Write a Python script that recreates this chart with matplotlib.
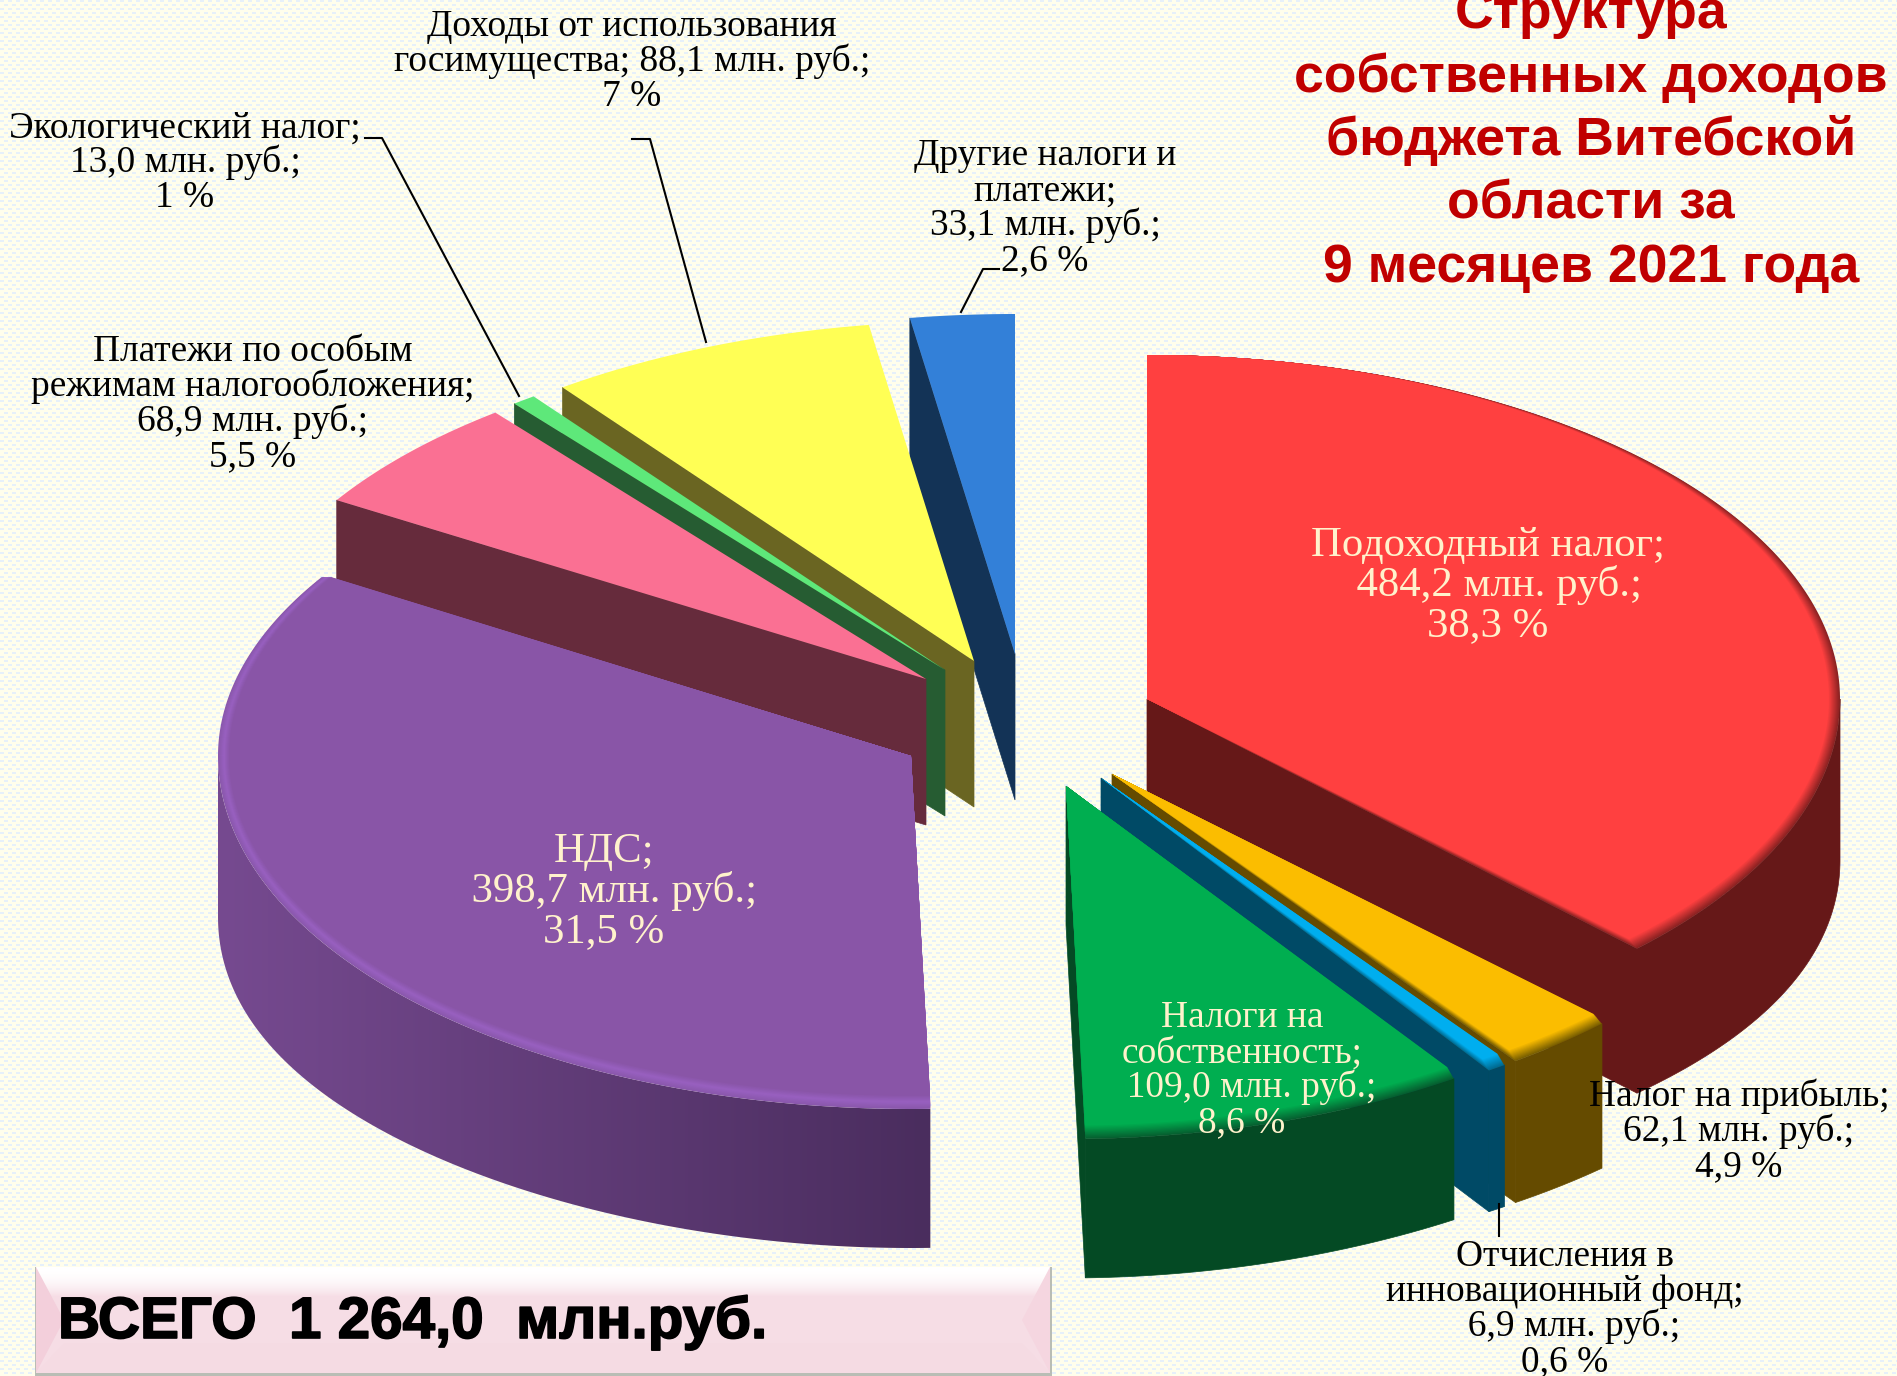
import numpy as np
import matplotlib
matplotlib.use("Agg")
import matplotlib.pyplot as plt
import matplotlib.patheffects as pe
from matplotlib.colors import to_rgb, LinearSegmentedColormap
from matplotlib.patches import Polygon

# data, clockwise from the top of the pie
category_lines = [
    ["Подоходный налог;"],
    ["Налог на прибыль;"],
    ["Отчисления в", "инновационный фонд;"],
    ["Налоги на", "собственность;"],
    ["НДС;"],
    ["Платежи по особым", "режимам налогообложения;"],
    ["Экологический налог;"],
    ["Доходы от использования", "госимущества; 88,1 млн. руб.;"],
    ["Другие налоги и", "платежи;"],
]
values_mln = [484.2, 62.1, 6.9, 109.0, 398.7, 68.9, 13.0, 88.1, 33.1]
percent_labels = ["38,3", "4,9", "0,6", "8,6", "31,5", "5,5", "1", "7", "2,6"]
title_lines = ["Структура", "собственных доходов", "бюджета Витебской", "области за", "9 месяцев 2021 года"]
total_label = "ВСЕГО  1 264,0  млн.руб."

# look of the slices
APEX = [(1147, 699), (1112, 774), (1101, 778), (1066, 786), (911, 756),
        (926, 679), (945, 670), (974, 661), (1015, 654)]
TOPS = ["#ff4040", "#fbbd00", "#00aeef", "#00ae50", "#8955a7", "#fa7093", "#5ee87a", "#ffff55", "#3380d8"]
WALLS = ["#661818", "#654b00", "#004a66", "#044a24", "#764a90", "#662b3c", "#265c32", "#6a6522", "#133356"]
# the drawn pie is slightly warped, so boundaries are nudged (degrees)
EDGE_NUDGE = [0, -2.9, -11.2, -11.6, -10.2, -0.4, -0.2, -1.9, 0.7, 0]
RX, RY_BACK, RY_FRONT = 693, 340, 353
DEPTH_BACK, DEPTH_FRONT, DEPTH_SIDE_EXTRA = 146, 139, 22
BEVEL = {0: "#8a2222", 1: "#7a5f00", 2: "#006a90", 3: "#066030", 4: "#9860c0"}
LABEL_POS = [(1488, 543), (1739, 1095), (1565, 1255), (1242, 1016), (604, 849),
             (253, 350), (185, 126), (632, 25), (1045, 154)]
LABEL_BIG = [True, False, False, False, True, False, False, False, False]
LABEL_LIGHT = [True, False, False, True, True, False, False, False, False]
LEADERS = [[(365, 138), (382, 138), (519, 396)],
           [(632, 139), (650, 139), (706, 342)],
           [(999, 269), (983, 269), (961, 312)],
           [(1499, 1204), (1499, 1236)]]

SERIF = "Liberation Serif"
SANS = "Liberation Sans"


def blend(c1, c2, t):
    a, b = np.array(to_rgb(c1)), np.array(to_rgb(c2))
    return tuple(a + (b - a) * t)


def rim(apex, deg, rx=RX, ry_front=RY_FRONT, ry_back=RY_BACK):
    t = np.radians(deg)
    c = np.cos(t)
    ry = np.where(c > 0, ry_back, ry_front)
    return apex[0] + rx * np.sin(t), apex[1] - ry * c


def front_depth(deg):
    # the side looks a bit taller at the far left and right
    return DEPTH_FRONT + DEPTH_SIDE_EXTRA * np.sin(np.radians(deg)) ** 4


def background(ax):
    img = np.empty((1376, 1897, 3))
    img[:] = to_rgb("#fffeec")
    yy, xx = np.mgrid[0:1376, 0:1897]
    row = yy // 4
    dash = (yy % 4 < 2) & ((xx + 4 * (row % 2)) % 8 < 4)
    img[dash] = to_rgb("#e6f0fa")
    ax.imshow(img, extent=(0, 1897, 1376, 0), interpolation="nearest", zorder=0, aspect="auto")


def draw_slice(ax, i, d0, d1):
    apex = APEX[i]
    arc = np.linspace(d0, d1, 200)
    ry_back = 344 if i == 0 else RY_BACK

    # side wall along the radial edge that faces the viewer
    if i != 4:
        edge = d1 if i < 4 else d0
        depth = front_depth(edge) if i < 4 else DEPTH_BACK
        ex, ey = rim(apex, edge)
        ax.fill([ex, apex[0], apex[0], ex], [ey, apex[1], apex[1] + depth, ey + depth],
                color=WALLS[i], lw=0.5, zorder=2)

    # outer wall, only the part that faces the viewer
    lo, hi = max(d0, 90), min(d1, 270)
    if hi > lo:
        steps = np.linspace(lo, hi, 160)
        xs, ys = rim(apex, steps)
        px = np.r_[xs, xs[::-1]]
        py = np.r_[ys, (ys + front_depth(steps))[::-1]]
        if i == 4:
            # purple side darkens to the right
            cmap = LinearSegmentedColormap.from_list("side", ["#764a90", "#4a2d5e"])
            im = ax.imshow(np.linspace(0, 1, 256)[None, :], cmap=cmap, aspect="auto", zorder=2,
                           extent=(px.min(), px.max(), py.max(), py.min()))
            clip = Polygon(np.c_[px, py], transform=ax.transData, fc="none", ec="none")
            ax.add_patch(clip)
            im.set_clip_path(clip)
        else:
            ax.fill(px, py, color=WALLS[i], lw=0.5, zorder=2)

    # top face, with soft bevel going inward from the rim
    if i in BEVEL:
        n = 12
        for k in range(n):
            f = k / (n - 1)
            if i == 4:
                col = blend("#8a58ac", BEVEL[i], f / 0.5) if f < 0.5 else blend(BEVEL[i], TOPS[i], (f - 0.5) / 0.5)
            else:
                col = blend(BEVEL[i], TOPS[i], f)
            xs, ys = rim(apex, arc, RX - k * 1.0, RY_FRONT - k * 1.2, ry_back)
            ax.fill(np.r_[apex[0], xs], np.r_[apex[1], ys], color=col, lw=0, zorder=3)
    else:
        xs, ys = rim(apex, arc)
        ax.fill(np.r_[apex[0], xs], np.r_[apex[1], ys], color=TOPS[i], lw=0, zorder=3)


def put_lines(ax, lines, x, y, size_px, step, **kw):
    for n, line in enumerate(lines):
        ax.text(x, y + n * step + 0.3 * size_px, line, fontsize=size_px * 0.72,
                ha="center", va="baseline", zorder=6, **kw)


def total_box(ax):
    x0, x1, y0, y1 = 36, 1050, 1267, 1373
    ax.fill([x0 - 1, x1 + 2, x1 + 2, x0 - 1], [y0, y0, y1 + 3, y1 + 3], color="#b9bdb5", lw=0, zorder=4)
    ax.fill([x0, x1, x1, x0], [y0, y0, y1, y1], color="#f6dde5", lw=0, zorder=4)
    for k in range(30):
        yy = y0 + k
        ax.fill([x0, x1, x1, x0], [yy, yy, yy + 1.2, yy + 1.2],
                color=blend("#ffffff", "#f6dde5", (k / 29) ** 2), lw=0, zorder=4)
    ax.fill([x0, x0 + 28, x0], [y0, y0 + 53, y1], color="#f3cfdb", lw=0, zorder=4)
    ax.fill([x1, x1 - 28, x1], [y0, y0 + 53, y1], color="#f5d6e0", lw=0, zorder=4)
    ax.fill([x0, x1, x1 - 28, x0 + 28], [y1, y1, y1 - 30, y1 - 30], color="#f5dbe3", lw=0, zorder=4)
    ax.text(58, 1338, total_label, fontsize=42, family=SANS, fontweight="bold", color="black",
            ha="left", va="baseline", zorder=6,
            path_effects=[pe.withStroke(linewidth=1.2, foreground="black")])


def main():
    fig = plt.figure(figsize=(18.97, 13.76), dpi=100)
    ax = fig.add_axes([0, 0, 1, 1])
    background(ax)

    values = np.array(values_mln)
    edges = np.r_[0, np.cumsum(values) / values.sum() * 360] + np.array(EDGE_NUDGE)

    # back slices first, then the front ones
    for i in [8, 7, 6, 5, 4, 0, 1, 2, 3]:
        draw_slice(ax, i, edges[i], edges[i + 1])

    for path in LEADERS:
        xs, ys = zip(*path)
        ax.plot(xs, ys, color="black", lw=1.5, zorder=5)

    for i, lines in enumerate(category_lines):
        amount = f"{values_mln[i]:.1f} млн. руб.;".replace(".", ",", 1)
        if i in (0, 2, 3, 4):
            # these amounts sit a little right of the other lines
            amount = "\u00a0\u00a0" + amount
        text = list(lines)
        if i != 7:
            text.append(amount)
        text.append(percent_labels[i] + " %")
        size, step = (42.7, 40) if LABEL_BIG[i] else (37.4, 35)
        color = "#fff2cc" if LABEL_LIGHT[i] else "black"
        put_lines(ax, text, LABEL_POS[i][0], LABEL_POS[i][1], size, step, family=SERIF, color=color)

    put_lines(ax, title_lines, 1591, 12, 53.5, 63.5, family=SANS, fontweight="bold", color="#c00000")
    total_box(ax)

    ax.set_xlim(0, 1897)
    ax.set_ylim(1376, 0)
    ax.axis("off")
    fig.savefig("out.png", dpi=100)


main()
